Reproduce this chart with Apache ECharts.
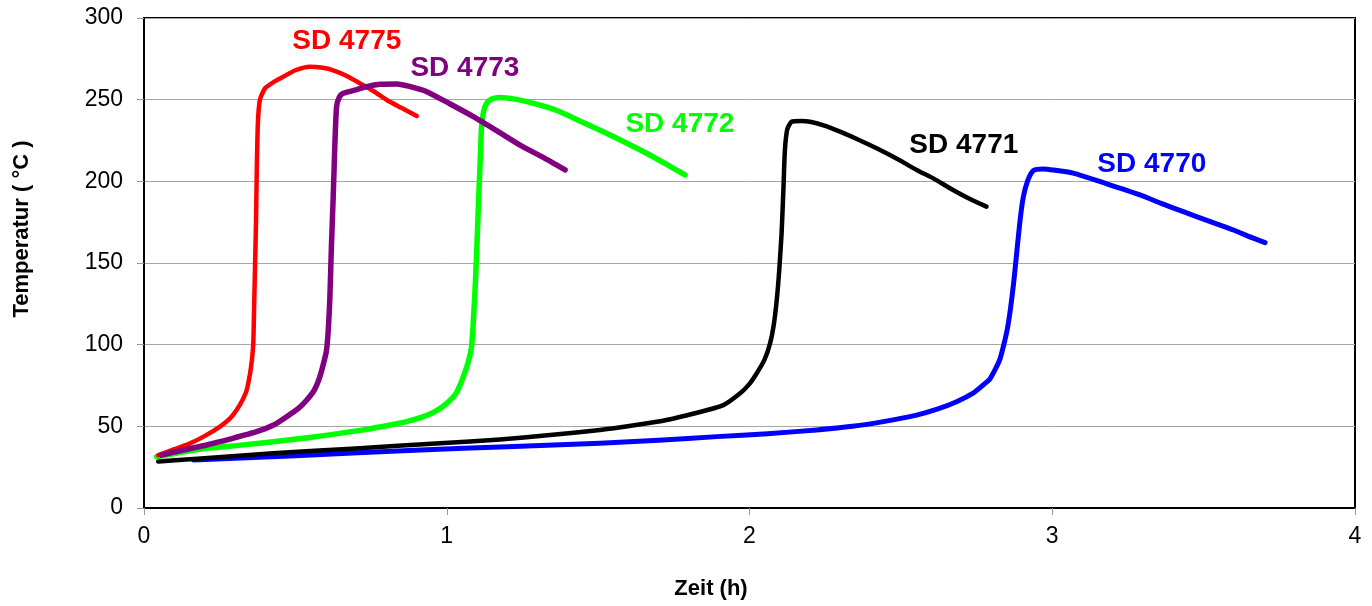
<!DOCTYPE html>
<html>
<head>
<meta charset="utf-8">
<script src="https://cdn.jsdelivr.net/npm/echarts@6/dist/echarts.min.js"></script>
<style>
html,body{margin:0;padding:0;background:#fff;}
#chart{width:1372px;height:606px;}
</style>
</head>
<body>
<div id="chart"></div>
<script>
// ---- data (x = Zeit in h, y = Temperatur in °C) ----
const xTicks = [0, 1, 2, 3, 4];
const yTicks = [0, 50, 100, 150, 200, 250, 300];

const sd4775 = [[0.047,32.4],[0.10,36],[0.152,39.6],[0.20,44],[0.251,49.8],[0.285,55],[0.306,60],[0.325,66],[0.339,72],[0.350,82],[0.356,90],[0.361,101],[0.364,125],[0.367,150],[0.370,175],[0.372,201],[0.376,235],[0.383,250],[0.400,257],[0.430,261],[0.460,264],[0.50,268],[0.548,270.2],[0.59,269.5],[0.625,268],[0.67,264.5],[0.713,260],[0.76,255],[0.802,249.8],[0.85,245],[0.901,240]];

const sd4773 = [[0.058,32.4],[0.13,35.5],[0.207,38.6],[0.29,42.5],[0.372,46.7],[0.43,51],[0.471,55.9],[0.51,61],[0.537,66],[0.562,72],[0.581,80.4],[0.595,90],[0.603,96.7],[0.609,110],[0.614,129],[0.619,160],[0.625,190.6],[0.630,220],[0.636,245.7],[0.645,251.5],[0.658,253.9],[0.70,256],[0.736,258],[0.78,259.4],[0.835,259.6],[0.88,258],[0.934,254.9],[1.01,247.5],[1.088,239.6],[1.165,231],[1.242,222.2],[1.32,214.5],[1.391,207]];

const sd4772 = [[0.042,31.4],[0.12,34],[0.207,36.5],[0.32,38.5],[0.427,40.6],[0.54,43],[0.647,45.7],[0.73,48],[0.813,50.8],[0.87,53],[0.923,55.9],[0.965,59.5],[1.0,64.1],[1.03,70],[1.055,80.4],[1.072,90],[1.082,98.8],[1.088,115],[1.093,131.4],[1.099,157],[1.104,182.5],[1.110,210],[1.115,233.5],[1.122,243],[1.132,247.8],[1.15,250.5],[1.176,251.4],[1.22,250.5],[1.264,248.8],[1.32,246],[1.374,242.6],[1.445,236.5],[1.517,230.4],[1.59,223.8],[1.660,217.2],[1.725,210.5],[1.787,203.9]];

const sd4771 = [[0.047,28.4],[0.2,30.5],[0.427,33.5],[0.7,36.5],[0.978,39.6],[1.176,42],[1.35,44.8],[1.506,47.8],[1.63,51],[1.726,53.9],[1.82,58],[1.914,63],[1.969,70.2],[2.0,76],[2.024,82.5],[2.05,91],[2.068,100.8],[2.080,112],[2.090,127.4],[2.098,145],[2.106,168.2],[2.112,195],[2.117,219.2],[2.125,232],[2.139,236.5],[2.17,237],[2.200,236.5],[2.25,234],[2.299,230.4],[2.36,225.5],[2.420,220.2],[2.49,213.5],[2.552,207],[2.61,201.5],[2.662,195.8],[2.72,190],[2.783,184.5]];

const sd4770 = [[0.163,29.4],[0.5,32],[0.912,35.5],[1.2,37.5],[1.506,39.6],[1.7,41.5],[1.892,43.7],[2.06,45.5],[2.222,47.8],[2.34,50],[2.442,52.9],[2.552,56.9],[2.62,60.5],[2.684,65.1],[2.74,70.5],[2.772,75.3],[2.794,79],[2.812,85],[2.827,91],[2.840,100],[2.852,110],[2.862,122],[2.872,137],[2.882,155],[2.893,175],[2.904,190],[2.918,200],[2.937,206.5],[2.97,207.5],[3.0,207],[3.069,205],[3.18,198.5],[3.290,191.7],[3.36,186.5],[3.433,181.4],[3.52,175.5],[3.598,170.2],[3.66,165.5],[3.703,162.5]];

// series names and label anchor positions (data coordinates)
const seriesNames = ['SD 4770', 'SD 4771', 'SD 4772', 'SD 4775', 'SD 4773'];
const seriesData = [sd4770, sd4771, sd4772, sd4775, sd4773];
const seriesColors = ['#0000FF', '#000000', '#00FF00', '#FF0000', '#800080'];
const seriesWidths = [5, 4.5, 5.5, 4.5, 5.5];
const labelAnchors = [[3.329, 210.5], [2.708, 222], [1.770, 235], [0.670, 285.5], [1.060, 269]];

const FONT = "'Liberation Sans', Arial, sans-serif";

const chart = echarts.init(document.getElementById('chart'), null, {renderer: 'canvas'});

const series = seriesNames.map((name, i) => ({
  name: name,
  type: 'line',
  data: seriesData[i],
  showSymbol: false,
  symbol: 'none',
  smooth: 0.2,
  lineStyle: {color: seriesColors[i], width: seriesWidths[i], cap: 'round', join: 'round'},
  itemStyle: {color: seriesColors[i]},
  z: 2 + i,
  markPoint: {
    symbol: 'circle',
    symbolSize: 0,
    silent: true,
    data: [{coord: labelAnchors[i], value: name}],
    label: {
      show: true,
      position: 'inside',
      formatter: name,
      color: seriesColors[i],
      fontFamily: FONT,
      fontWeight: 'bold',
      fontSize: 28
    }
  }
}));

chart.setOption({
  animation: false,
  backgroundColor: '#ffffff',
  grid: {
    left: 144, right: 17, top: 18, bottom: 98,
    show: true, borderColor: '#000', borderWidth: 2, backgroundColor: 'transparent'
  },
  xAxis: {
    type: 'value',
    min: xTicks[0], max: xTicks[xTicks.length - 1], interval: 1,
    axisLine: {show: true, onZero: false, lineStyle: {color: '#000', width: 2}},
    axisTick: {show: true, inside: false, length: 7, lineStyle: {color: '#999', width: 1}},
    axisLabel: {color: '#000', fontFamily: FONT, fontSize: 23, margin: 17},
    splitLine: {show: false}
  },
  yAxis: {
    type: 'value',
    min: yTicks[0], max: yTicks[yTicks.length - 1], interval: 50,
    axisLine: {show: true, onZero: false, lineStyle: {color: '#000', width: 2}},
    axisTick: {show: true, inside: false, length: 7, lineStyle: {color: '#999', width: 1}},
    axisLabel: {color: '#000', fontFamily: FONT, fontSize: 23, margin: 21},
    splitLine: {show: true, lineStyle: {color: '#A6A6A6', width: 1}}
  },
  graphic: [
    {
      type: 'text', x: 22, y: 229, rotation: Math.PI / 2,
      style: {text: 'Temperatur ( °C )', fill: '#000', font: 'bold 22px ' + FONT, textAlign: 'center', textVerticalAlign: 'middle'}
    },
    {
      type: 'text', x: 711, y: 589,
      style: {text: 'Zeit (h)', fill: '#000', font: 'bold 22px ' + FONT, textAlign: 'center', textVerticalAlign: 'middle'}
    }
  ],
  series: series
});
</script>
</body>
</html>
